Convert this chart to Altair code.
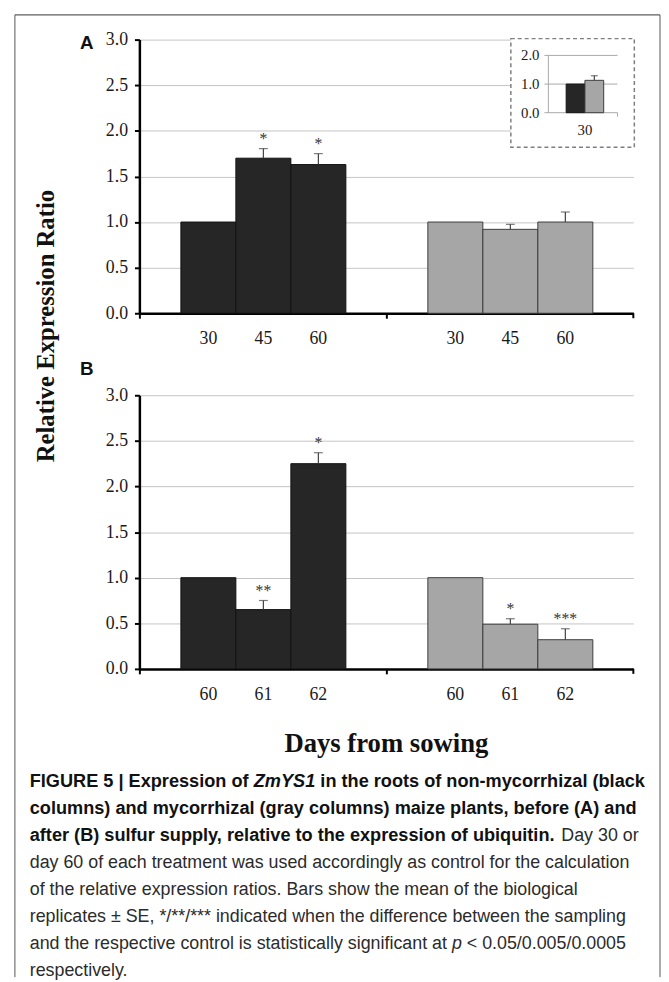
import altair as alt
import pandas as pd

# ---------------- data ----------------
groups = ["NM", "M"]                      # non-mycorrhizal (black), mycorrhizal (gray)
fill_colors = ["#262626", "#a6a6a6"]
stroke_colors = ["#111111", "#3c3c3c"]

days_a = ["30", "45", "60"]
nm_a = [1.00, 1.70, 1.63]
nm_a_se = [0.0, 0.105, 0.12]
nm_a_sig = ["", "*", "*"]
m_a = [1.00, 0.92, 1.00]
m_a_se = [0.0, 0.055, 0.11]
m_a_sig = ["", "", ""]

days_b = ["60", "61", "62"]
nm_b = [1.00, 0.65, 2.25]
nm_b_se = [0.0, 0.10, 0.12]
nm_b_sig = ["", "**", "*"]
m_b = [1.00, 0.49, 0.32]
m_b_se = [0.0, 0.06, 0.12]
m_b_sig = ["", "*", "***"]

inset_day = "30"
inset_vals = [1.00, 1.13]
inset_se = [0.0, 0.16]

y_ticks = [0.0, 0.5, 1.0, 1.5, 2.0, 2.5, 3.0]
inset_ticks = [0.0, 1.0, 2.0]

y_title = "Relative Expression Ratio"
x_title = "Days from sowing"

cap_l1 = ["FIGURE 5 | Expression of", "ZmYS1", "in the roots of non-mycorrhizal (black"]
cap_l2 = "columns) and mycorrhizal (gray columns) maize plants, before (A) and"
cap_l3 = ["after (B) sulfur supply, relative to the expression of ubiquitin.", "Day 30 or"]
cap_l4 = "day 60 of each treatment was used accordingly as control for the calculation"
cap_l5 = "of the relative expression ratios. Bars show the mean of the biological"
cap_l6 = "replicates \u00b1 SE, */**/*** indicated when the difference between the sampling"
cap_l7 = ["and the respective control is statistically significant at", "p", "< 0.05/0.005/0.0005"]
cap_l8 = "respectively."

# ---------------- text metrics (Arial / Liberation Sans advance widths) ----------------
_REG = dict(zip("abcdefghijklmnopqrstuvwxyz",
                [556, 556, 500, 556, 556, 278, 556, 556, 222, 222, 500, 222, 833, 556, 556, 556,
                 556, 333, 500, 278, 556, 500, 722, 500, 500, 500]))
_REG.update({"A": 667, "B": 667, "D": 722, "E": 667, "F": 611, "G": 778, "I": 278, "R": 722,
             "S": 667, "U": 722, "Y": 667, "Z": 611, " ": 278, ".": 278, ",": 278, "/": 278,
             "|": 260, "(": 333, ")": 333, "-": 333, "*": 389, "\u00b1": 549, "<": 584})
_BOLD = dict(zip("abcdefghijklmnopqrstuvwxyz",
                 [556, 611, 556, 611, 556, 333, 611, 611, 278, 278, 556, 278, 889, 611, 611, 611,
                  611, 389, 556, 333, 611, 556, 778, 556, 556, 500]))
_BOLD.update({"A": 722, "B": 722, "D": 722, "E": 667, "F": 611, "G": 778, "I": 278, "R": 722,
              "S": 667, "U": 722, "Y": 667, "Z": 611, " ": 278, ".": 278, ",": 278, "/": 278,
              "|": 280, "(": 333, ")": 333, "-": 333, "*": 389, "<": 584})


def em(text, bold=False):
    table = _BOLD if bold else _REG
    return sum(table.get(c, 556) for c in text) / 1000.0


# ---------------- layout helpers ----------------
W, H = 500, 277
SERIF = "Liberation Serif"
SANS = "Liberation Sans"


def panel_df(days, nm, nm_se, nm_sig, m, m_se, m_sig):
    rows = []
    for g, vals, ses, sigs in [("NM", nm, nm_se, nm_sig), ("M", m, m_se, m_sig)]:
        for d, v, s, sg in zip(days, vals, ses, sigs):
            rows.append(dict(group=g, day=d, value=v, se=s, upper=v + s, sig=sg))
    return pd.DataFrame(rows)


def one(text):
    return alt.Chart(pd.DataFrame({"t": [text]}))


def label(text, x, y, size, font=SANS, weight="normal", style="normal", align="left",
          baseline="alphabetic", color="#111111", angle=0):
    kw = dict(font=font, fontSize=size, fontWeight=weight, fontStyle=style, align=align,
              baseline=baseline, color=color)
    if angle:
        kw["angle"] = angle
    return one(text).mark_text(**kw).encode(x=alt.value(x), y=alt.value(y), text="t:N")


def hrule(x, x2, y, color="black", width=1.0):
    return one("r").mark_rule(color=color, strokeWidth=width).encode(
        x=alt.value(x), x2=alt.value(x2), y=alt.value(y))


def vrule(x, y, y2, color="black", width=1.0):
    return one("r").mark_rule(color=color, strokeWidth=width).encode(
        x=alt.value(x), y=alt.value(y), y2=alt.value(y2))


BAR_SPAN = [42, 209]   # pixel extent of the three bars inside each 250 px group band


def main_layers(df, days):
    x = alt.X("group:N", sort=groups,
              scale=alt.Scale(domain=groups, paddingInner=0, paddingOuter=0),
              axis=alt.Axis(labels=False, title=None, bandPosition=0, tickSize=5, tickWidth=2,
                            tickColor="black", domainColor="black", domainWidth=2.5, grid=False))
    xo = alt.XOffset("day:N", sort=days,
                     scale=alt.Scale(domain=days, range=BAR_SPAN, paddingInner=0, paddingOuter=0))
    y = alt.Y("value:Q", scale=alt.Scale(domain=[0, 3], nice=False),
              axis=alt.Axis(values=y_ticks, format=".1f", title=None, labelFont=SERIF,
                            labelFontSize=18, labelColor="#1a1a1a", labelPadding=7,
                            labelFlush=False, tickSize=5, tickWidth=2, tickColor="black",
                            domainColor="black", domainWidth=2.5, grid=True,
                            gridColor="#c4c4c4", gridWidth=1))
    color = alt.Color("group:N", scale=alt.Scale(domain=groups, range=fill_colors), legend=None)
    stroke = alt.Stroke("group:N", scale=alt.Scale(domain=groups, range=stroke_colors), legend=None)
    base = alt.Chart(df)
    bars = base.mark_bar(strokeWidth=1).encode(x=x, xOffset=xo, y=y, color=color, stroke=stroke)
    err = base.transform_filter("datum.se > 0").mark_rule(color="#404040", strokeWidth=1.2).encode(
        x=x, xOffset=xo, y="value:Q", y2="upper:Q")
    caps = base.transform_filter("datum.se > 0").mark_tick(
        color="#404040", thickness=1.2, size=9, orient="horizontal").encode(
        x=x, xOffset=xo, y="upper:Q")
    stars = base.transform_filter("datum.sig != ''").mark_text(
        font=SERIF, fontSize=16, color="#333333", baseline="alphabetic", dy=-5).encode(
        x=x, xOffset=xo, y="upper:Q", text="sig:N")
    days_txt = base.mark_text(font=SERIF, fontSize=18, color="#1a1a1a", baseline="alphabetic").encode(
        x=x, xOffset=xo, y=alt.value(H + 31), text="day:N")
    xtick_end = vrule(W, H, H + 5, width=2)
    return [bars, err, caps, stars, days_txt, xtick_end]


# ---------------- panel A ----------------
df_a = panel_df(days_a, nm_a, nm_a_se, nm_a_sig, m_a, m_a_se, m_a_sig)
layers_a = main_layers(df_a, days_a)
layers_a += [
    label("A", -60, 10, 19, weight="bold"),
    label(y_title, -94, 290, 25, font=SERIF, weight="bold", align="center",
          baseline="middle", angle=270),
]
main_a = alt.layer(*layers_a)

# inset
inset_df = pd.DataFrame(dict(group=groups, value=inset_vals, se=inset_se,
                             upper=[v + s for v, s in zip(inset_vals, inset_se)]))
tick_df = pd.DataFrame(dict(tick=inset_ticks, lab=[f"{t:.1f}" for t in inset_ticks]))
span_df = pd.DataFrame(dict(lo=[inset_ticks[0]], hi=[inset_ticks[-1]]))
ix = alt.X("group:N", sort=groups,
           scale=alt.Scale(domain=groups, range=[432, 470], paddingInner=0, paddingOuter=0),
           axis=None)
iscale = alt.Scale(domain=[0, 2], range=[74, 16], nice=False)
icolor = alt.Color("group:N", scale=alt.Scale(domain=groups, range=fill_colors), legend=None)
istroke = alt.Stroke("group:N", scale=alt.Scale(domain=groups, range=stroke_colors), legend=None)

inset_box = one("box").mark_rect(fill="white", stroke="#7f7f7f", strokeWidth=1.5,
                                 strokeDash=[4, 3]).encode(
    x=alt.value(376), x2=alt.value(501), y=alt.value(-1), y2=alt.value(109))
inset_grid = alt.Chart(tick_df).mark_rule(color="#a8a8a8", strokeWidth=1).encode(
    y=alt.Y("tick:Q", scale=iscale, axis=None), x=alt.value(410), x2=alt.value(484))
inset_yaxis = alt.Chart(span_df).mark_rule(color="#a8a8a8", strokeWidth=1).encode(
    y=alt.Y("lo:Q", scale=iscale, axis=None), y2="hi:Q", x=alt.value(414))
inset_labels = alt.Chart(tick_df).mark_text(font=SERIF, fontSize=15, color="#1a1a1a",
                                            align="right", baseline="middle").encode(
    y=alt.Y("tick:Q", scale=iscale, axis=None), x=alt.value(405), text="lab:N")
inset_bars = alt.Chart(inset_df).mark_bar(strokeWidth=1).encode(
    x=ix, y=alt.Y("value:Q", scale=iscale, axis=None), color=icolor, stroke=istroke)
inset_err = alt.Chart(inset_df).transform_filter("datum.se > 0").mark_rule(
    color="#404040", strokeWidth=1.2).encode(
    x=ix, y=alt.Y("value:Q", scale=iscale, axis=None), y2="upper:Q")
inset_cap = alt.Chart(inset_df).transform_filter("datum.se > 0").mark_tick(
    color="#404040", thickness=1.2, size=7, orient="horizontal").encode(
    x=ix, y=alt.Y("upper:Q", scale=iscale, axis=None))
inset_xlab = label(inset_day, 451, 97, 15, font=SERIF, align="center", color="#1a1a1a")
inset_xtick = vrule(484, 74, 78, color="#a8a8a8")

inset = alt.layer(inset_box, inset_grid, inset_yaxis, inset_labels, inset_bars,
                  inset_err, inset_cap, inset_xlab, inset_xtick)

panel_a = alt.layer(main_a, inset).resolve_scale(x="independent", y="independent").properties(
    width=W, height=H)

# ---------------- panel B + caption ----------------
df_b = panel_df(days_b, nm_b, nm_b_se, nm_b_sig, m_b, m_b_se, m_b_sig)
layers_b = main_layers(df_b, days_b)

FX0, FX1, FY0, FY1 = -126, 527, -385, 589
CX = -111                     # caption left edge (page x = 29)
line1_end, line4_end = 512, 496   # caption line ends (page x 652, 636)
SPB = em(" ", True)
SPR = em(" ")
FB = (line1_end - CX) / (em("".join(cap_l1), bold=True) + 2 * SPB)
FR = (line4_end - CX) / em(cap_l4)
base_y = 397
lh = 27.3
RC = "#2b2b2b"


def ypos(i):
    return base_y + i * lh


x1b = CX + (em(cap_l1[0], True) + SPB) * FB
x1c = x1b + (em(cap_l1[1], True) + SPB) * FB
x3b = CX + em(cap_l3[0], True) * FB + SPR * FR
x7b = CX + (em(cap_l7[0]) + SPR) * FR
x7c = x7b + (em(cap_l7[1]) + SPR) * FR

layers_b += [
    label("B", -60, -20, 19, weight="bold"),
    label(x_title, 250, 361, 27, font=SERIF, weight="bold", align="center"),
    hrule(FX0, FX1, FY0, color="#333333"),
    vrule(FX0, FY0, FY1, color="#555555"),
    vrule(FX1, FY0, FY1, color="#555555"),
    label(cap_l1[0], CX, ypos(0), FB, weight="bold"),
    label(cap_l1[1], x1b, ypos(0), FB, weight="bold", style="italic"),
    label(cap_l1[2], x1c, ypos(0), FB, weight="bold"),
    label(cap_l2, CX, ypos(1), FB, weight="bold"),
    label(cap_l3[0], CX, ypos(2), FB, weight="bold"),
    label(cap_l3[1], x3b, ypos(2), FR, color=RC),
    label(cap_l4, CX, ypos(3), FR, color=RC),
    label(cap_l5, CX, ypos(4), FR, color=RC),
    label(cap_l6, CX, ypos(5), FR, color=RC),
    label(cap_l7[0], CX, ypos(6), FR, color=RC),
    label(cap_l7[1], x7b, ypos(6), FR, style="italic", color=RC),
    label(cap_l7[2], x7c, ypos(6), FR, color=RC),
    label(cap_l8, CX, ypos(7), FR, color=RC),
]
panel_b = alt.layer(*layers_b).properties(width=W, height=H)

chart = alt.vconcat(panel_a, panel_b, spacing=83, bounds="flush").resolve_scale(
    xOffset="independent").configure_view(stroke=None).properties(
    padding={"left": 6, "top": 0, "right": 0, "bottom": 0})

chart.save("out.html", embed_options={"renderer": "svg", "actions": False})
